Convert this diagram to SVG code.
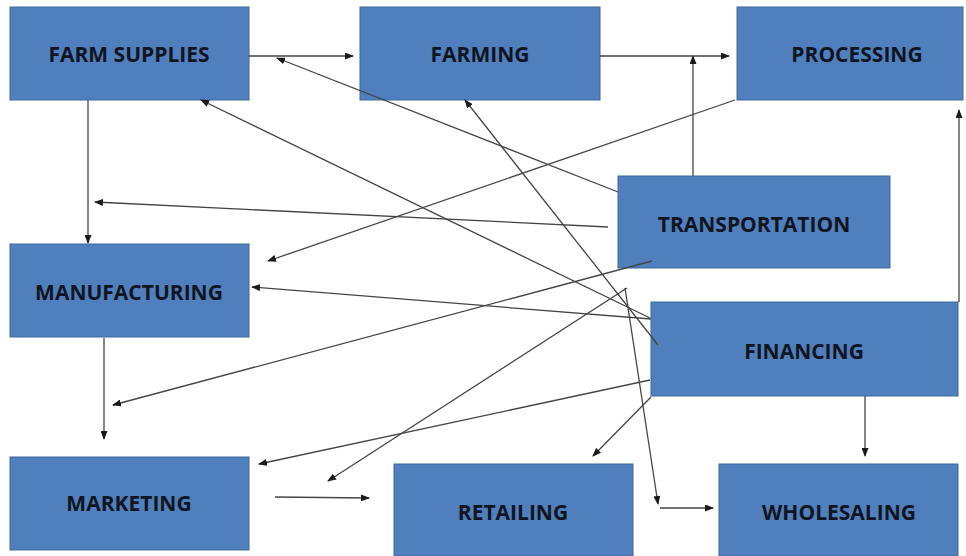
<svg xmlns="http://www.w3.org/2000/svg" width="966" height="556" viewBox="0 0 966 556">
<style>
.box{fill:#4F7FBD;stroke:#3F6A9E;stroke-width:1}
.lbl{font-family:"Open Sans","Liberation Sans",sans-serif;font-weight:bold;font-size:21px;fill:#10151f;text-anchor:middle;dominant-baseline:central}
.c{stroke:#454545;stroke-width:1.3;fill:none}
.a{marker-end:url(#ah)}
</style>
<defs>
<marker id="ah" markerWidth="9" markerHeight="7" refX="8" refY="3.5" orient="auto" markerUnits="userSpaceOnUse">
<path d="M0,0 L9,3.5 L0,7 z" fill="#1a1a1a"/>
</marker>
</defs>
<rect width="966" height="556" fill="#ffffff"/>
<g id="farm-supplies"><rect class="box" x="10" y="7" width="239" height="93"/><text class="lbl" x="129" y="54">FARM SUPPLIES</text></g>
<g id="farming"><rect class="box" x="360" y="7" width="240" height="93"/><text class="lbl" x="480" y="54">FARMING</text></g>
<g id="processing"><rect class="box" x="737" y="7" width="226" height="93"/><text class="lbl" x="857" y="54">PROCESSING</text></g>
<g id="transportation"><rect class="box" x="618" y="176" width="272" height="92"/><text class="lbl" x="754" y="224">TRANSPORTATION</text></g>
<g id="manufacturing"><rect class="box" x="10" y="244" width="239" height="93"/><text class="lbl" x="129" y="292">MANUFACTURING</text></g>
<g id="financing"><rect class="box" x="651" y="302" width="307" height="94"/><text class="lbl" x="804" y="351">FINANCING</text></g>
<g id="marketing"><rect class="box" x="10" y="457" width="239" height="93"/><text class="lbl" x="129" y="503">MARKETING</text></g>
<g id="retailing"><rect class="box" x="394" y="464" width="239" height="92"/><text class="lbl" x="513" y="512">RETAILING</text></g>
<g id="wholesaling"><rect class="box" x="719" y="464" width="239" height="92"/><text class="lbl" x="839" y="512">WHOLESALING</text></g>
<g id="connectors">
<line class="c a" x1="249" y1="56" x2="353" y2="56"/>
<line class="c a" x1="600" y1="56" x2="729" y2="56"/>
<line class="c a" x1="693" y1="176" x2="693" y2="56"/>
<line class="c a" x1="618" y1="192" x2="277" y2="58"/>
<line class="c a" x1="650" y1="318" x2="201" y2="100"/>
<line class="c a" x1="658" y1="345" x2="465" y2="100"/>
<line class="c a" x1="608" y1="227" x2="95" y2="202"/>
<line class="c a" x1="88" y1="100" x2="88" y2="243"/>
<line class="c a" x1="735" y1="100" x2="268" y2="261"/>
<line class="c a" x1="651" y1="319" x2="252" y2="287"/>
<line class="c a" x1="652" y1="261" x2="113" y2="405"/>
<line class="c a" x1="104" y1="338" x2="104" y2="439"/>
<line class="c a" x1="650" y1="380" x2="259" y2="464"/>
<line class="c a" x1="627" y1="288" x2="328" y2="481"/>
<line class="c a" x1="275" y1="497" x2="369" y2="498"/>
<line class="c a" x1="651" y1="397" x2="593" y2="456"/>
<line class="c a" x1="625" y1="288" x2="658" y2="504"/>
<line class="c a" x1="660" y1="508" x2="713" y2="508"/>
<line class="c a" x1="865" y1="396" x2="865" y2="456"/>
<line class="c a" x1="959" y1="302" x2="959" y2="110"/>
</g>
</svg>
